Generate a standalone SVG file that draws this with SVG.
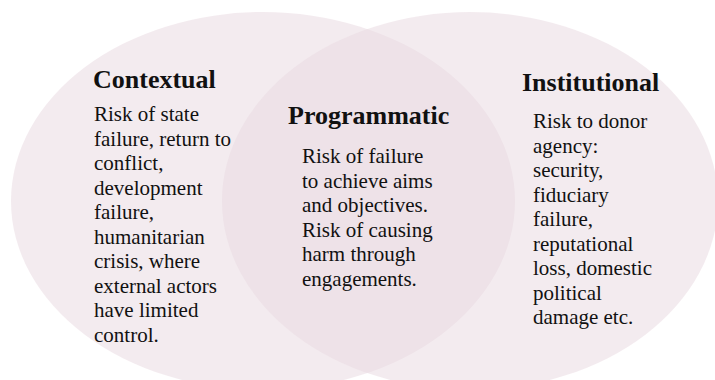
<svg xmlns="http://www.w3.org/2000/svg" width="715" height="380" viewBox="0 0 715 380">
<style>
.c{fill:rgb(233,219,226);fill-opacity:0.55}
.h{font-family:"Liberation Serif","Times New Roman",serif;font-weight:bold;font-size:26px;fill:#111}
.b{font-family:"Liberation Serif","Times New Roman",serif;font-size:21px;fill:#111}
</style>
<rect width="715" height="380" fill="#fff"/>
<g id="contextual">
<ellipse class="c" cx="263" cy="201" rx="252" ry="189"/>
<text class="h" x="93" y="88">Contextual</text>
<text class="b">
<tspan x="94" y="121">Risk of state</tspan>
<tspan x="94" y="145.5">failure, return to</tspan>
<tspan x="94" y="170">conflict,</tspan>
<tspan x="94" y="194.5">development</tspan>
<tspan x="94" y="219">failure,</tspan>
<tspan x="94" y="243.5">humanitarian</tspan>
<tspan x="94" y="268">crisis, where</tspan>
<tspan x="94" y="292.5">external actors</tspan>
<tspan x="94" y="317">have limited</tspan>
<tspan x="94" y="341.5">control.</tspan>
</text>
</g>
<g id="institutional">
<ellipse class="c" cx="470" cy="201" rx="248" ry="189"/>
<text class="h" x="522" y="91">Institutional</text>
<text class="b">
<tspan x="533" y="128">Risk to donor</tspan>
<tspan x="533" y="152.5">agency:</tspan>
<tspan x="533" y="177">security,</tspan>
<tspan x="533" y="201.5">fiduciary</tspan>
<tspan x="533" y="226">failure,</tspan>
<tspan x="533" y="250.5">reputational</tspan>
<tspan x="533" y="275">loss, domestic</tspan>
<tspan x="533" y="299.5">political</tspan>
<tspan x="533" y="324">damage etc.</tspan>
</text>
</g>
<g id="programmatic">
<text class="h" x="288" y="124">Programmatic</text>
<text class="b">
<tspan x="302" y="163">Risk of failure</tspan>
<tspan x="302" y="187.5">to achieve aims</tspan>
<tspan x="302" y="212">and objectives.</tspan>
<tspan x="302" y="236.5">Risk of causing</tspan>
<tspan x="302" y="261">harm through</tspan>
<tspan x="302" y="285.5">engagements.</tspan>
</text>
</g>
<g id="connectors"/>
</svg>
